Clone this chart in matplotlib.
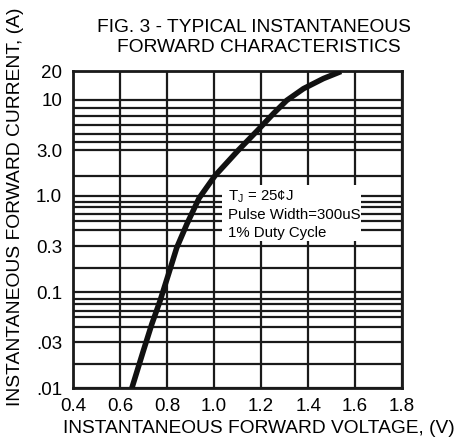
import matplotlib
matplotlib.use("Agg")
import matplotlib.pyplot as plt
from matplotlib.patches import Rectangle

plt.rcParams['font.family'] = ['Liberation Sans', 'DejaVu Sans']

# curve
voltage = [0.650, 0.699, 0.735, 0.770, 0.806, 0.841, 0.884, 0.936, 1.004,
           1.102, 1.191, 1.252, 1.309, 1.380, 1.465, 1.540]
current = [0.010, 0.0245, 0.0465, 0.081, 0.154, 0.29, 0.51, 0.95, 1.63,
           2.98, 5.0, 7.2, 9.9, 13.1, 16.7, 19.8]

x_ticks = [0.4, 0.6, 0.8, 1.0, 1.2, 1.4, 1.6, 1.8]
x_labels = ['0.4', '0.6', '0.8', '1.0', '1.2', '1.4', '1.6', '1.8']
y_ticks = [0.01, 0.03, 0.1, 0.3, 1.0, 3.0, 10, 20]
y_labels = ['.01', '.03', '0.1', '0.3', '1.0', '3.0', '10', '20']
y_minor = [8.3, 6.8, 5.5, 4.4, 3.65, 1.6,
           0.86, 0.76, 0.65, 0.55, 0.44, 0.18,
           0.085, 0.075, 0.064, 0.055, 0.043, 0.018]

fig = plt.figure(figsize=(4.57, 4.44), dpi=100)
ax = fig.add_axes([0.160, 0.126, 0.720, 0.714])

ax.set_yscale('log')
ax.set_xlim(0.4, 1.8)
ax.set_ylim(0.01, 20)

ax.set_xticks(x_ticks, x_labels)
ax.set_yticks(y_ticks, y_labels)
ax.set_yticks(y_minor, minor=True)
ax.tick_params(which='both', length=0, labelsize=13.5)
ax.tick_params(axis='x', pad=7)
ax.tick_params(axis='y', pad=8)
ax.grid(which='both', color='#1a1a1a', linewidth=1.6)

for s in ax.spines.values():
    s.set_linewidth(2)
    s.set_color('#1a1a1a')

# white box behind the conditions text
ax.add_patch(Rectangle((0.453, 0.464), 0.422, 0.176, transform=ax.transAxes,
                       facecolor='white', edgecolor='none', zorder=2.5))
ax.text(0.472, 0.603, 'T$_\\mathregular{J}$ = 25¢J', transform=ax.transAxes,
        fontsize=10.8, va='center', zorder=3)
ax.text(0.472, 0.546, 'Pulse Width=300uS', transform=ax.transAxes,
        fontsize=10.8, va='center', zorder=3)
ax.text(0.472, 0.489, '1% Duty Cycle', transform=ax.transAxes,
        fontsize=10.8, va='center', zorder=3)

ax.plot(voltage, current, color='#111111', linewidth=4, zorder=4,
        solid_capstyle='butt', solid_joinstyle='round')

fig.text(0.556, 0.937, 'FIG. 3 - TYPICAL INSTANTANEOUS', ha='center',
         va='center', fontsize=13.8)
fig.text(0.566, 0.892, 'FORWARD CHARACTERISTICS', ha='center',
         va='center', fontsize=13.8)
fig.text(0.567, 0.036, 'INSTANTANEOUS FORWARD VOLTAGE, (V)', ha='center',
         va='center', fontsize=13.8)
fig.text(0.035, 0.535, 'INSTANTANEOUS FORWARD CURRENT, (A)', ha='center',
         va='center', rotation=90, fontsize=13.9)

fig.savefig('out.png', dpi=100)
